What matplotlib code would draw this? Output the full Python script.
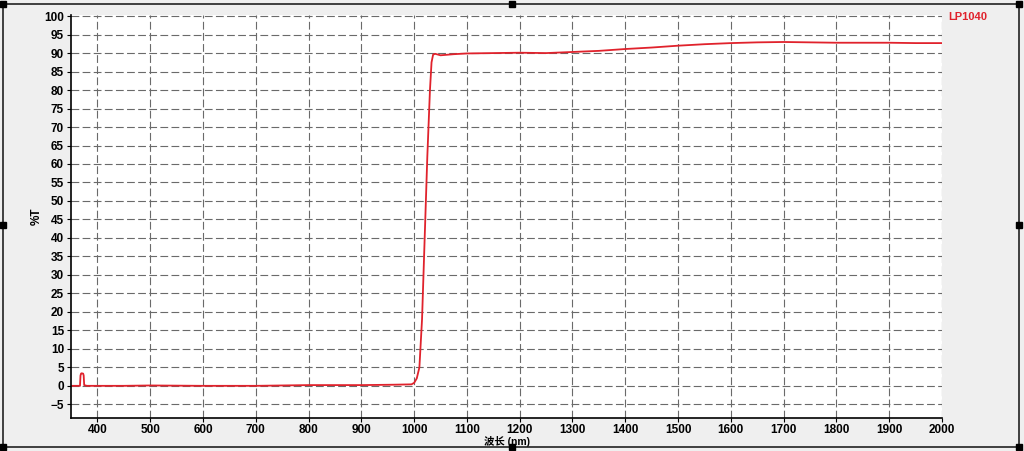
import matplotlib.pyplot as plt
import numpy as np
from matplotlib.patches import Rectangle

plt.rcParams["font.family"] = ["Liberation Sans", "Noto Sans CJK SC", "DejaVu Sans"]

# transmission curve (nm, %T)
wavelength = [352, 360, 367, 368, 369, 370, 373, 374, 375, 380, 450, 500, 600, 700, 800, 900,
              960, 995, 1000, 1005, 1010, 1015, 1020, 1025, 1030, 1033, 1036, 1040, 1050,
              1075, 1100, 1150, 1200, 1250, 1300, 1350, 1400, 1450, 1500, 1550, 1600,
              1650, 1700, 1750, 1800, 1850, 1900, 1950, 2000]
transmission = [0.0, 0.0, 0.0, 2.8, 3.3, 3.4, 3.3, 2.8, 0.2, 0.0, 0.0, 0.1, 0.0, 0.0, 0.2, 0.2,
                0.3, 0.4, 0.8, 2.0, 5.0, 18.0, 40.0, 62.0, 80.0, 87.5, 89.6, 89.8, 89.4,
                89.7, 89.9, 90.0, 90.1, 90.0, 90.3, 90.6, 91.1, 91.5, 92.0, 92.4, 92.7,
                92.9, 93.0, 92.9, 92.8, 92.8, 92.8, 92.7, 92.7]

x_ticks = list(range(400, 2001, 100))
y_ticks = list(range(-5, 101, 5))
series_name = "LP1040"

fig = plt.figure(figsize=(10.24, 4.51), dpi=100, facecolor="#efefef")
ax = fig.add_axes([71 / 1024, 1 - 418 / 451, (942 - 71) / 1024, (418 - 15) / 451])
ax.set_facecolor("white")

ax.plot(wavelength, transmission, color="#e0222c", lw=1.3)

ax.set_xlim(350, 2000)
ax.set_ylim(-8.7, 100.3)
ax.set_xticks(x_ticks)
ax.set_yticks(y_ticks)
ax.tick_params(labelsize=8.5, length=3, width=0.8, pad=2)
ax.tick_params(axis="x", pad=1)
for lab in ax.get_xticklabels() + ax.get_yticklabels():
    lab.set_fontweight("bold")
ax.grid(True, color="#6a6a6a", ls=(0, (7, 3)), lw=0.8)

for side in ["top", "right"]:
    ax.spines[side].set_visible(False)
for side in ["left", "bottom"]:
    ax.spines[side].set_linewidth(1.2)

ax.set_xlabel("波长 (nm)", fontsize=7.5, fontweight="bold")
ax.set_ylabel("%T", fontsize=8.5, fontweight="bold")
ax.xaxis.set_label_coords(0.5, -0.044)
ax.yaxis.set_label_coords(-0.032, 0.5)
fig.text(948 / 1024, 1 - 17 / 451, series_name, color="#e0222c", fontsize=8,
         fontweight="bold", va="center", ha="left")

# window frame and handles
fig.patches.append(Rectangle((3 / 1024, 4 / 451), 1016 / 1024, 443 / 451, transform=fig.transFigure,
                             fill=False, ec="#222222", lw=1.2))
for hx in [3, 512, 1019]:
    for hy in [4, 225, 447]:
        if hx == 512 and hy == 225:
            continue
        fig.patches.append(Rectangle(((hx - 3) / 1024, 1 - (hy + 3) / 451), 6 / 1024, 6 / 451,
                                     transform=fig.transFigure, color="black"))

fig.savefig("out.png", dpi=100, facecolor=fig.get_facecolor())
